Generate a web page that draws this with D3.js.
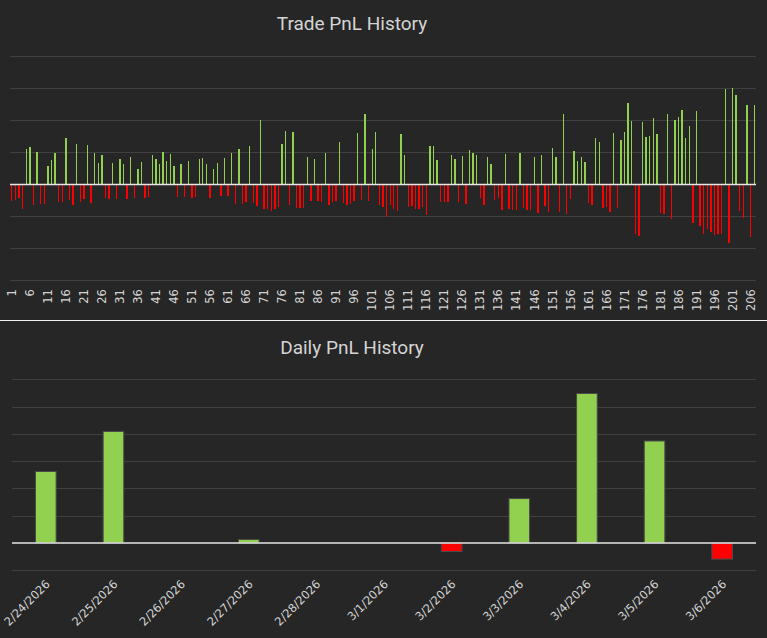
<!DOCTYPE html>
<html>
<head>
<meta charset="utf-8">
<script src="https://cdn.jsdelivr.net/npm/d3@7"></script>
<style>
  html, body { margin: 0; padding: 0; background: #262626; }
  svg { display: block; }
</style>
</head>
<body>
<svg id="chart" width="767" height="638"></svg>
<script>
// ---- Data (units = one gridline step) ----
const tradePnl = [
  -0.54,-0.51,-0.45,-0.79,1.10,1.17,-0.67,1.01,-0.64,-0.64,0.57,0.76,0.98,-0.57,-0.57,1.45,-0.51,-0.67,1.26,-0.57,
  -0.48,1.23,-0.60,0.98,0.67,0.92,-0.45,-0.48,0.67,-0.48,0.79,0.64,-0.48,0.85,-0.45,0.48,0.70,-0.45,-0.42,0.92,
  0.79,0.64,1.01,0.73,0.95,0.57,-0.42,0.64,-0.42,0.73,-0.45,-0.42,0.79,
  0.82,0.64,-0.45,0.48,0.67,-0.39,0.82,-0.39,0.98,-0.64,1.10,-0.64,-0.57,1.20,-0.60,-0.70,2.01,-0.79,-0.79,-0.85,
  -0.79,-0.73,1.26,1.67,-0.67,1.64,-0.76,-0.76,-0.76,0.85,-0.54,0.79,-0.54,-0.57,0.98,-0.67,-0.57,-0.54,1.32,-0.60,
  -0.67,-0.64,-0.54,1.60,-0.51,2.20,-0.54,1.10,1.64,-0.67,-0.73,-1.04,-0.67,-0.79,-0.85,
  1.57,0.92,-0.73,-0.70,-0.79,-0.79,-0.73,-0.98,1.20,1.20,0.76,-0.57,-0.57,-0.57,0.92,0.79,-0.57,0.89,-0.64,1.07,
  0.98,0.92,-0.45,-0.67,0.85,0.64,-0.51,-0.45,-0.82,0.95,-0.79,-0.82,-0.82,0.98,-0.76,-0.82,-0.82,0.85,-0.92,0.92,
  -0.70,-0.89,1.14,0.85,-0.89,2.20,-0.95,-0.48,1.04,0.73,0.85,0.70,-0.60,-0.67,1.45,1.32,
  -0.76,-0.73,-0.89,1.60,-0.76,1.39,1.64,2.54,1.98,-1.57,-1.64,1.95,1.48,1.51,2.07,1.57,-0.92,-0.95,2.20,-1.10,
  2.01,2.10,2.32,1.45,1.82,-1.23,2.29,-1.32,-1.57,-1.42,-1.51,-1.60,-1.57,-1.57,2.98,-1.83,3.01,2.79,-0.85,-1.07,
  2.48,-1.67,2.48
];
const tradeIds = tradePnl.map((_, i) => i + 1);
const tradeTickLabels = tradeIds.filter(id => (id - 1) % 5 === 0);
const tradeGridTicks = [-3, -2, -1, 1, 2, 3, 4];

const days = ["2/24/2026","2/25/2026","2/26/2026","2/27/2026","2/28/2026","3/1/2026",
              "3/2/2026","3/3/2026","3/4/2026","3/5/2026","3/6/2026"];
const dailyPnl = [2.62, 4.09, 0, 0.13, 0, 0, -0.31, 1.63, 5.48, 3.74, -0.59];
const dailyGridTicks = [-1, 1, 2, 3, 4, 5, 6];

const titles = ["Trade PnL History", "Daily PnL History"];

// ---- Styling ----
const GREEN = "#92d050", RED = "#ff0000";
const GRID = "#404040", ZERO = "#e6e6e6", TEXT = "#d4d4d4";

const svg = d3.select("#chart");

// ================= Top: Trade PnL =================
const x1 = d3.scaleBand().domain(tradeIds).range([10, 756]).paddingInner(0.62).paddingOuter(0.31);
const y1 = d3.scaleLinear().domain([-3, 4]).range([280, 56]);

svg.append("text").attr("x", 352).attr("y", 30).attr("text-anchor", "middle")
  .attr("font-family", "Roboto, sans-serif").attr("font-size", 19).attr("fill", TEXT)
  .text(titles[0]);

const g1 = svg.append("g");
g1.selectAll("line.grid").data(tradeGridTicks).join("line").attr("class", "grid")
  .attr("x1", 10).attr("x2", 756)
  .attr("y1", d => Math.round(y1(d)) + 0.5).attr("y2", d => Math.round(y1(d)) + 0.5)
  .attr("stroke", GRID).attr("stroke-width", 1);

g1.selectAll("rect").data(tradePnl).join("rect")
  .attr("x", (d, i) => x1(tradeIds[i]))
  .attr("width", x1.bandwidth())
  .attr("y", d => y1(Math.max(0, d)))
  .attr("height", d => Math.abs(y1(d) - y1(0)))
  .attr("fill", d => d >= 0 ? GREEN : RED)
  .attr("shape-rendering", "crispEdges");

g1.append("line").attr("x1", 10).attr("x2", 756)
  .attr("y1", y1(0) + 0.5).attr("y2", y1(0) + 0.5)
  .attr("stroke", ZERO).attr("stroke-width", 1.5);

const ax1 = d3.axisBottom(x1).tickValues(tradeTickLabels).tickSize(0).tickPadding(0);
const ax1g = svg.append("g").attr("transform", "translate(0,288)").call(ax1);
ax1g.select(".domain").remove();
ax1g.selectAll("text")
  .attr("font-family", "'DejaVu Sans', sans-serif").attr("font-size", 11.5).attr("fill", TEXT)
  .attr("text-anchor", "end")
  .attr("x", 0).attr("y", 0).attr("dx", "-0.1em").attr("dy", "0.36em")
  .attr("transform", "rotate(-90)");

// separator
svg.append("line").attr("x1", 0).attr("x2", 767).attr("y1", 320.5).attr("y2", 320.5)
  .attr("stroke", "#f0f0f0").attr("stroke-width", 1.2);

// ================= Bottom: Daily PnL =================
const x2 = d3.scaleBand().domain(days).range([12, 756]).paddingInner(0.695).paddingOuter(0.3475);
const y2 = d3.scaleLinear().domain([-1, 6]).range([570.3, 379.3]);

svg.append("text").attr("x", 352).attr("y", 354).attr("text-anchor", "middle")
  .attr("font-family", "Roboto, sans-serif").attr("font-size", 19).attr("fill", TEXT)
  .text(titles[1]);

const g2 = svg.append("g");
g2.selectAll("line.grid").data(dailyGridTicks).join("line").attr("class", "grid")
  .attr("x1", 12).attr("x2", 756)
  .attr("y1", d => Math.round(y2(d)) + 0.5).attr("y2", d => Math.round(y2(d)) + 0.5)
  .attr("stroke", GRID).attr("stroke-width", 1);

g2.selectAll("rect").data(dailyPnl.map((v, i) => ({ v, day: days[i] })).filter(d => d.v !== 0))
  .join("rect")
  .attr("x", d => x2(d.day))
  .attr("width", x2.bandwidth())
  .attr("y", d => y2(Math.max(0, d.v)))
  .attr("height", d => Math.abs(y2(d.v) - y2(0)))
  .attr("fill", d => d.v >= 0 ? GREEN : RED)
  .attr("stroke", "#4a4a4a").attr("stroke-width", 1);

g2.append("line").attr("x1", 12).attr("x2", 756)
  .attr("y1", y2(0)).attr("y2", y2(0))
  .attr("stroke", ZERO).attr("stroke-width", 1.5);

const ax2 = d3.axisBottom(x2).tickSize(0).tickPadding(0);
const ax2g = svg.append("g").attr("transform", "translate(0,584)").call(ax2);
ax2g.select(".domain").remove();
ax2g.selectAll("text")
  .attr("font-family", "'DejaVu Sans', sans-serif").attr("font-size", 11.5).attr("fill", TEXT)
  .attr("text-anchor", "end").attr("x", 0).attr("y", 0)
  .attr("dx", "0.25em").attr("dy", "0.35em")
  .attr("transform", "rotate(-45)");
</script>
</body>
</html>
